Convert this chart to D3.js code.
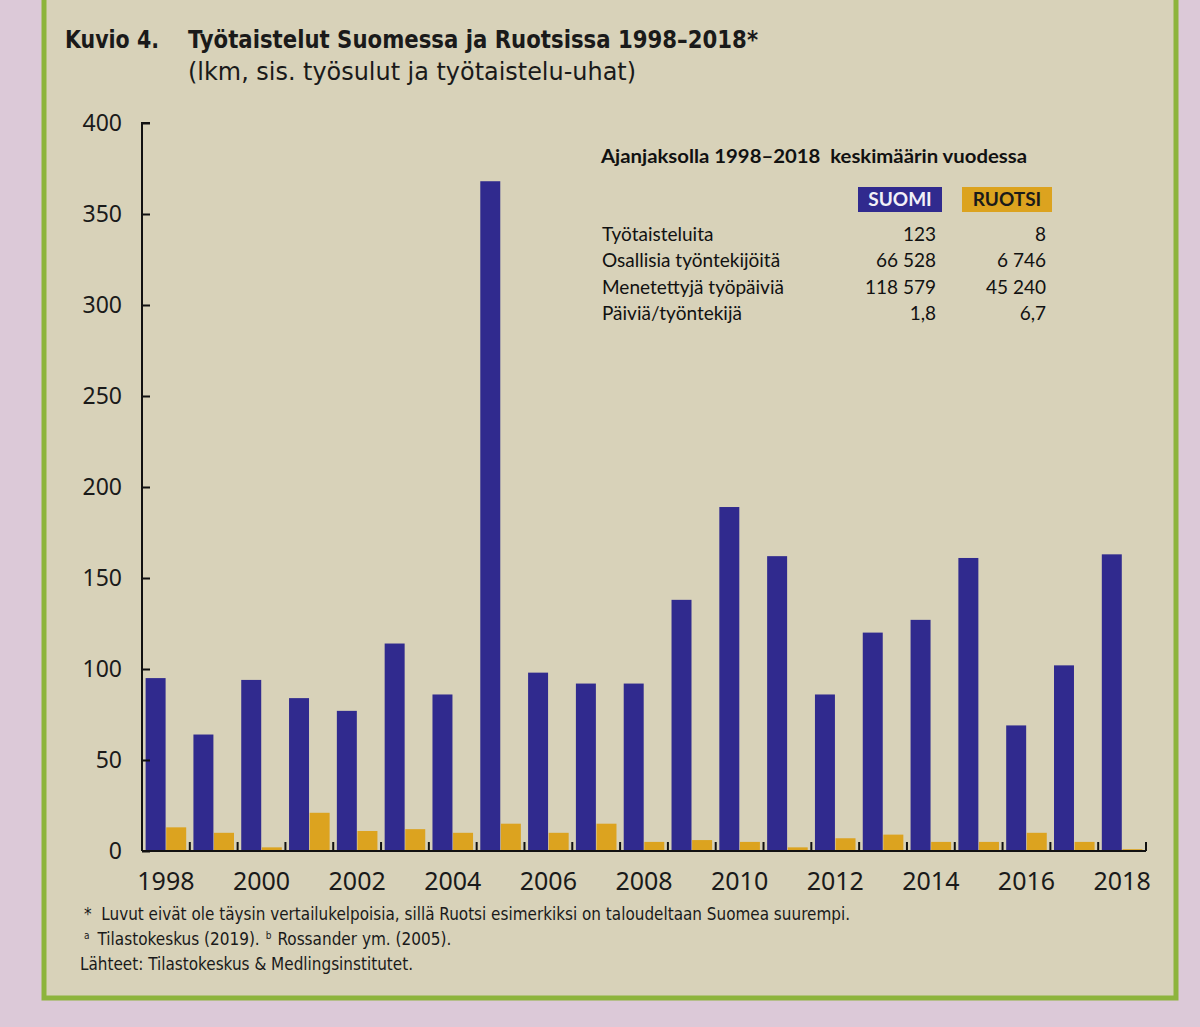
<!DOCTYPE html>
<html>
<head>
<meta charset="utf-8">
<script src="https://cdn.jsdelivr.net/npm/d3@7"></script>
<style>
  html, body { margin: 0; padding: 0; background: #dcc9d8; }
  svg { display: block; }
</style>
</head>
<body>
<svg id="chart" width="1200" height="1027"></svg>
<script>
// Data
const years = d3.range(1998, 2019).map(String)
const suomi = [95, 64, 94, 84, 77, 114, 86, 368, 98, 92, 92, 138, 189, 162, 86, 120, 127, 161, 69, 102, 163]
const ruotsi = [13, 10, 2, 21, 11, 12, 10, 15, 10, 15, 5, 6, 5, 2, 7, 9, 5, 5, 10, 5, 1]
const yTicks = [0, 50, 100, 150, 200, 250, 300, 350, 400]
const yearLabels = ['1998', '2000', '2002', '2004', '2006', '2008', '2010', '2012', '2014', '2016', '2018']

const tableRows = ['Työtaisteluita', 'Osallisia työntekijöitä', 'Menetettyjä työpäiviä', 'Päiviä/työntekijä']
const tableSuomi = ['123', '66 528', '118 579', '1,8']
const tableRuotsi = ['8', '6 746', '45 240', '6,7']

const footnotes = [
  '*  Luvut eivät ole täysin vertailukelpoisia, sillä Ruotsi esimerkiksi on taloudeltaan Suomea suurempi.',
  'Tilastokeskus (2019).',
  'Lähteet: Tilastokeskus & Medlingsinstitutet.'
]

const blue = '#302a8e'
const yellow = '#dca31f'
const paper = '#d8d2b9'
const green = '#8db43c'

const svg = d3.select('#chart')

// Page + frame
svg.append('rect')
  .attr('x', 44).attr('y', -10)
  .attr('width', 1132).attr('height', 1008)
  .attr('fill', paper)
  .attr('stroke', green)
  .attr('stroke-width', 5)

const condensed = '"Liberation Sans Narrow", "DejaVu Sans Condensed", sans-serif'
const sans = '"Noto Sans", "DejaVu Sans", sans-serif'
const calibriLike = 'Lato, "Open Sans", sans-serif'

// Title
svg.append('text')
  .attr('x', 65).attr('y', 48)
  .style('font-family', condensed).style('font-weight', 'bold').style('font-size', '25px')
  .attr('textLength', 94).attr('lengthAdjust', 'spacingAndGlyphs')
  .attr('fill', '#1a1a1a')
  .text('Kuvio 4.')
svg.append('text')
  .attr('x', 188).attr('y', 48)
  .style('font-family', condensed).style('font-weight', 'bold').style('font-size', '25px')
  .attr('textLength', 570).attr('lengthAdjust', 'spacingAndGlyphs')
  .attr('fill', '#1a1a1a')
  .text('Työtaistelut Suomessa ja Ruotsissa 1998–2018*')
svg.append('text')
  .attr('x', 188).attr('y', 80)
  .style('font-family', condensed).style('font-size', '24px')
  .attr('textLength', 448).attr('lengthAdjust', 'spacingAndGlyphs')
  .attr('fill', '#1a1a1a')
  .text('(lkm, sis. työsulut ja työtaistelu-uhat)')

// Scales
const x0 = 142, x1 = 1146, yBase = 851, yTop = 123
const x = d3.scaleBand().domain(years).range([x0, x1])
const inner = d3.scaleBand().domain(['suomi', 'ruotsi']).range([3, x.bandwidth() - 3]).padding(0.03)
const y = d3.scaleLinear().domain([0, 400]).range([yBase, yTop])

const rows = years.map((yr, i) => ({ year: yr, suomi: suomi[i], ruotsi: ruotsi[i] }))

// Bars
const groups = svg.append('g')
  .selectAll('g')
  .data(rows)
  .join('g')
  .attr('transform', d => `translate(${x(d.year)},0)`)

groups.append('rect')
  .attr('x', inner('suomi'))
  .attr('y', d => y(d.suomi))
  .attr('width', inner.bandwidth())
  .attr('height', d => y(0) - y(d.suomi))
  .attr('fill', blue)

groups.append('rect')
  .attr('x', inner('ruotsi'))
  .attr('y', d => y(d.ruotsi))
  .attr('width', inner.bandwidth())
  .attr('height', d => y(0) - y(d.ruotsi))
  .attr('fill', yellow)

// Axis Y
const yAxis = svg.append('g')
  .attr('transform', `translate(${x0},0)`)
  .call(d3.axisRight(y).tickValues(yTicks).tickSize(8).tickFormat(''))
yAxis.select('.domain').attr('d', `M8,${yTop}H0V${yBase}`).attr('stroke', '#111').attr('stroke-width', 2)
yAxis.selectAll('.tick line').attr('stroke', '#111').attr('stroke-width', 2)

svg.append('g')
  .selectAll('text')
  .data(yTicks)
  .join('text')
  .attr('x', 122)
  .attr('y', d => y(d))
  .attr('dy', '0.36em')
  .attr('text-anchor', 'end')
  .style('font-family', sans).style('font-size', '23px')
  .attr('fill', '#1a1a1a')
  .text(d => d)

// Axis X
svg.append('line')
  .attr('x1', x0).attr('x2', x1)
  .attr('y1', yBase).attr('y2', yBase)
  .attr('stroke', '#111').attr('stroke-width', 2)

svg.append('g')
  .selectAll('line')
  .data(years)
  .join('line')
  .attr('x1', d => x(d) + x.bandwidth())
  .attr('x2', d => x(d) + x.bandwidth())
  .attr('y1', yBase)
  .attr('y2', yBase - 9)
  .attr('stroke', '#111').attr('stroke-width', 2)

svg.append('g')
  .selectAll('text')
  .data(yearLabels)
  .join('text')
  .attr('x', d => x(d) + x.bandwidth() / 2)
  .attr('y', 890)
  .attr('text-anchor', 'middle')
  .style('font-family', sans).style('font-size', '25px')
  .attr('fill', '#1a1a1a')
  .text(d => d)

// Inset table
svg.append('text')
  .attr('x', 601).attr('y', 163)
  .style('font-family', calibriLike).style('font-weight', 'bold').style('font-size', '19px')
  .style('white-space', 'pre')
  .attr('textLength', 426).attr('lengthAdjust', 'spacingAndGlyphs')
  .attr('fill', '#111')
  .text('Ajanjaksolla 1998–2018  keskimäärin vuodessa')

const legendItems = [
  { label: 'SUOMI', color: blue, text: '#f2f0f8', x: 858, w: 84 },
  { label: 'RUOTSI', color: yellow, text: '#1a1a1a', x: 962, w: 90 }
]
legendItems.forEach(item => {
  svg.append('rect')
    .attr('x', item.x).attr('y', 187)
    .attr('width', item.w).attr('height', 25)
    .attr('fill', item.color)
  svg.append('text')
    .attr('x', item.x + item.w / 2).attr('y', 206)
    .attr('text-anchor', 'middle')
    .style('font-family', calibriLike).style('font-weight', 'bold').style('font-size', '19px')
    .attr('fill', item.text)
    .text(item.label)
})

const rowY = [241, 267, 294, 320]
tableRows.forEach((label, i) => {
  svg.append('text')
    .attr('x', 602).attr('y', rowY[i])
    .style('font-family', calibriLike).style('font-size', '19px')
    .attr('fill', '#111')
    .text(label)
  svg.append('text')
    .attr('x', 936).attr('y', rowY[i])
    .attr('text-anchor', 'end')
    .style('font-family', calibriLike).style('font-size', '19px')
    .attr('fill', '#111')
    .text(tableSuomi[i])
  svg.append('text')
    .attr('x', 1046).attr('y', rowY[i])
    .attr('text-anchor', 'end')
    .style('font-family', calibriLike).style('font-size', '19px')
    .attr('fill', '#111')
    .text(tableRuotsi[i])
})

// Footnotes
const foot = svg.append('g')
  .style('font-family', condensed).style('font-size', '17px')
  .attr('fill', '#1a1a1a')

foot.append('text')
  .attr('x', 84).attr('y', 920)
  .style('white-space', 'pre')
  .attr('textLength', 766).attr('lengthAdjust', 'spacingAndGlyphs')
  .text(footnotes[0])

const f2 = foot.append('text').attr('x', 84).attr('y', 945)
f2.append('tspan').attr('font-size', '10px').attr('dy', '-6').text('a')
f2.append('tspan').attr('dx', '8').attr('dy', '6').text(footnotes[1])
f2.append('tspan').attr('font-size', '10px').attr('dx', '6').attr('dy', '-6').text('b')
f2.append('tspan').attr('dx', '6').attr('dy', '6').text('Rossander ym. (2005).')

foot.append('text')
  .attr('x', 80).attr('y', 970)
  .attr('textLength', 333).attr('lengthAdjust', 'spacingAndGlyphs')
  .text(footnotes[2])
</script>
</body>
</html>
